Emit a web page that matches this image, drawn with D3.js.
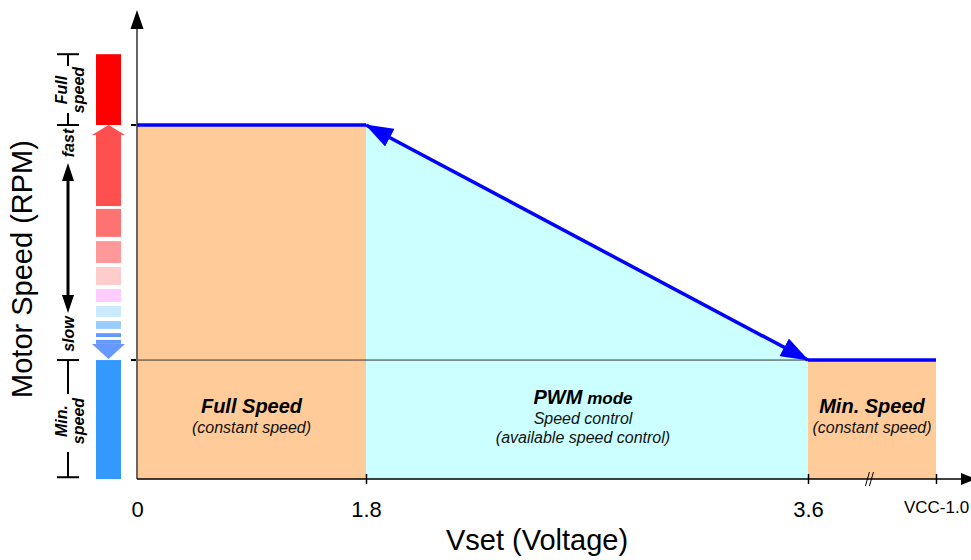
<!DOCTYPE html>
<html>
<head>
<meta charset="utf-8">
<script src="https://cdn.jsdelivr.net/npm/d3@7"></script>
<style>
  body { margin: 0; background: #fff; }
  text { font-family: "Liberation Sans", Arial, sans-serif; }
</style>
</head>
<body>
<svg id="chart"></svg>
<script>
// x axis (broken scale: last tick is VCC-1.0)
const vsetTicks = [0, 1.8, 3.6, 4.6];
const vsetLabels = ["0", "1.8", "3.6", "VCC-1.0"];

// speed profile
const profileVset = [0, 1.8, 3.6, 4.6];
const profileSpeed = [100, 100, 33.6, 33.6];

// operating modes
const modeNames = ["Full Speed", "PWM", "Min. Speed"];
const modeFrom = [0, 1.8, 3.6];
const modeTo = [1.8, 3.6, 4.6];
const modeNotes = [["(constant speed)"], ["Speed control", "(available speed control)"], ["(constant speed)"]];

// speed scale bar on the left (speed units)
const bandTop = [120, 97.2, 76.3, 67.2, 59.9, 53.7, 48.9, 44.6, 41.2, 39.3, 33.6];
const bandBottom = [100, 77.1, 68.4, 61.0, 54.8, 50.0, 45.8, 42.4, 40.1, 33.9, 0];
const bandColors = ["#ff0000", "#ff5050", "#ff7272", "#ff9999", "#ffcccc", "#ffccff", "#cceaff", "#99ccff", "#6699ff", "#6699ff", "#3399ff"];

const W = 971, H = 560;
const svg = d3.select("#chart").attr("width", W).attr("height", H);

const x = d3.scaleLinear().domain(vsetTicks).range([137, 366, 808, 936]);
const y = d3.scaleLinear().domain([0, 100]).range([479, 125]);

const modeColors = ["#ffcc99", "#ccffff", "#ffcc99"];
const profile = profileVset.map((v, i) => ({ v, s: profileSpeed[i] }));

// mode areas
const area = d3.area().x(d => x(d.v)).y0(y(0)).y1(d => y(d.s));
modeNames.forEach((m, i) => {
  const pts = profile.filter(d => d.v >= modeFrom[i] && d.v <= modeTo[i]);
  svg.append("path").attr("d", area(pts)).attr("fill", modeColors[i]);
});

// level lines
svg.append("line")
  .attr("x1", 131).attr("x2", x(3.6))
  .attr("y1", y(33.6)).attr("y2", y(33.6))
  .attr("stroke", "#333").attr("stroke-width", 1);
svg.append("line")
  .attr("x1", 131).attr("x2", 137)
  .attr("y1", y(33.6)).attr("y2", y(33.6))
  .attr("stroke", "#000").attr("stroke-width", 2);
svg.append("line")
  .attr("x1", 131).attr("x2", 137)
  .attr("y1", y(100)).attr("y2", y(100))
  .attr("stroke", "#000").attr("stroke-width", 2);

// y axis
svg.append("line")
  .attr("x1", 137).attr("x2", 137)
  .attr("y1", y(0)).attr("y2", 26)
  .attr("stroke", "#666").attr("stroke-width", 2);
svg.append("path").attr("d", "M137,10 L143.5,29 L130.5,29 Z").attr("fill", "#000");

// x axis
svg.append("line")
  .attr("x1", 137).attr("x2", 963)
  .attr("y1", y(0)).attr("y2", y(0))
  .attr("stroke", "#000").attr("stroke-width", 1.5);
svg.append("path").attr("d", `M976,${y(0)} L961,${y(0) - 6} L961,${y(0) + 6} Z`).attr("fill", "#000");

const xAxis = d3.axisBottom(x)
  .tickValues(vsetTicks)
  .tickFormat((d, i) => vsetLabels[i])
  .tickSize(0)
  .tickPadding(22);
const gx = svg.append("g").attr("transform", `translate(0,${y(0)})`).call(xAxis);
gx.select(".domain").remove();
gx.selectAll("text")
  .attr("fill", "#000")
  .style("font-size", (d, i) => i === 3 ? "17px" : "22px")
  .attr("dy", (d, i) => i === 3 ? "0.9em" : "0.71em")
  .attr("y", (d, i) => i === 3 ? 19 : 22);
gx.selectAll(".tick").filter(d => d > 0).append("line")
  .attr("y1", -5).attr("y2", 5).attr("stroke", "#000").attr("stroke-width", 1.5);

// axis break
const bx = x(4.08);
[-2, 2].forEach(o => {
  svg.append("line")
    .attr("x1", bx + o - 2).attr("x2", bx + o + 2)
    .attr("y1", y(0) + 7).attr("y2", y(0) - 7)
    .attr("stroke", "#000").attr("stroke-width", 1);
});

// blue flat segments
const line = d3.line().x(d => x(d.v)).y(d => y(d.s));
[0, 2].forEach(i => {
  const pts = profile.filter(d => d.v >= modeFrom[i] && d.v <= modeTo[i]);
  svg.append("path").attr("d", line(pts))
    .attr("fill", "none").attr("stroke", "#0000ff").attr("stroke-width", 3.5);
});

// PWM arrow
svg.append("defs").append("marker")
  .attr("id", "head")
  .attr("markerUnits", "userSpaceOnUse")
  .attr("viewBox", "0 0 28 20")
  .attr("refX", 27).attr("refY", 10)
  .attr("markerWidth", 28).attr("markerHeight", 20)
  .attr("orient", "auto-start-reverse")
  .append("path").attr("d", "M0,0 L28,10 L0,20 Z").attr("fill", "#0000ff");
svg.append("line")
  .attr("x1", x(1.8)).attr("y1", y(100))
  .attr("x2", x(3.6)).attr("y2", y(33.6))
  .attr("stroke", "#0000ff").attr("stroke-width", 3.5)
  .attr("marker-start", "url(#head)").attr("marker-end", "url(#head)");

// mode labels
modeNames.forEach((m, i) => {
  const cx = (x(modeFrom[i]) + x(modeTo[i])) / 2 - (i === 1 ? 4 : 0);
  const top = i === 1 ? 404 : 413;
  const t = svg.append("text").attr("x", cx).attr("y", top)
    .attr("text-anchor", "middle").attr("font-weight", "bold").attr("font-style", "italic")
    .style("font-size", "20px").attr("fill", "#000");
  t.append("tspan").text(m);
  if (i === 1) t.append("tspan").style("font-size", "17px").text(" mode");
  modeNotes[i].forEach((n, j) => {
    svg.append("text").attr("x", cx).attr("y", top + 20 + j * 19)
      .attr("text-anchor", "middle").attr("font-style", "italic")
      .style("font-size", "16px").attr("fill", "#111").text(n);
  });
});

// left speed bar
const barL = 96, barR = 121;
bandTop.forEach((t, i) => {
  if (i === 1) {
    // up arrow head on the fast band
    svg.append("path")
      .attr("d", `M${(barL + barR) / 2},${y(100)} L${barR + 4},${y(t)} L${barL - 4},${y(t)} Z`)
      .attr("fill", bandColors[i]);
  }
  if (i === 9) {
    // down arrow towards min speed
    svg.append("rect").attr("x", barL).attr("width", barR - barL)
      .attr("y", y(t)).attr("height", 4).attr("fill", bandColors[i]);
    svg.append("path")
      .attr("d", `M${barL - 4},${y(t) + 4} L${barR + 4},${y(t) + 4} L${(barL + barR) / 2},${y(bandBottom[i])} Z`)
      .attr("fill", bandColors[i]);
    return;
  }
  svg.append("rect").attr("x", barL).attr("width", barR - barL)
    .attr("y", y(t)).attr("height", y(bandBottom[i]) - y(t))
    .attr("fill", bandColors[i]);
});

// left dimension annotations
const ax = 68;
const dim = svg.append("g").attr("stroke", "#000").attr("stroke-width", 2);
[120, 100, 33.6, 0.5].forEach(s => {
  dim.append("line").attr("x1", 57).attr("x2", 79).attr("y1", y(s)).attr("y2", y(s));
});
dim.append("line").attr("x1", ax).attr("x2", ax).attr("y1", y(120)).attr("y2", 66);
dim.append("line").attr("x1", ax).attr("x2", ax).attr("y1", 113).attr("y2", y(100));
dim.append("line").attr("x1", ax).attr("x2", ax).attr("y1", y(33.6)).attr("y2", 394);
dim.append("line").attr("x1", ax).attr("x2", ax).attr("y1", 452).attr("y2", y(0.5));
dim.append("line").attr("x1", ax).attr("x2", ax).attr("y1", 178).attr("y2", 298).attr("stroke-width", 3);
svg.append("path").attr("d", `M${ax},163 L${ax + 6},181 L${ax - 6},181 Z`).attr("fill", "#000");
svg.append("path").attr("d", `M${ax},313 L${ax + 6},295 L${ax - 6},295 Z`).attr("fill", "#000");

function vlabel(lines, cy) {
  const t = svg.append("text")
    .attr("transform", `translate(${ax},${cy}) rotate(-90)`)
    .attr("text-anchor", "middle").attr("font-weight", "bold").attr("font-style", "italic")
    .style("font-size", "16px").attr("fill", "#000");
  const off = lines.length === 1 ? [5.5] : [-1, 16];
  lines.forEach((l, i) => t.append("tspan").attr("x", 0).attr("y", off[i]).text(l));
}
vlabel(["Full", "speed"], 90);
vlabel(["fast"], 143);
vlabel(["slow"], 334);
vlabel(["Min.", "speed"], 421);

// axis titles
svg.append("text")
  .attr("x", 537).attr("y", 550)
  .attr("text-anchor", "middle").style("font-size", "29px").attr("fill", "#000")
  .text("Vset (Voltage)");
svg.append("text")
  .attr("transform", "translate(32,269) rotate(-90)")
  .attr("text-anchor", "middle").style("font-size", "29px").attr("fill", "#000")
  .text("Motor Speed (RPM)");
</script>
</body>
</html>
